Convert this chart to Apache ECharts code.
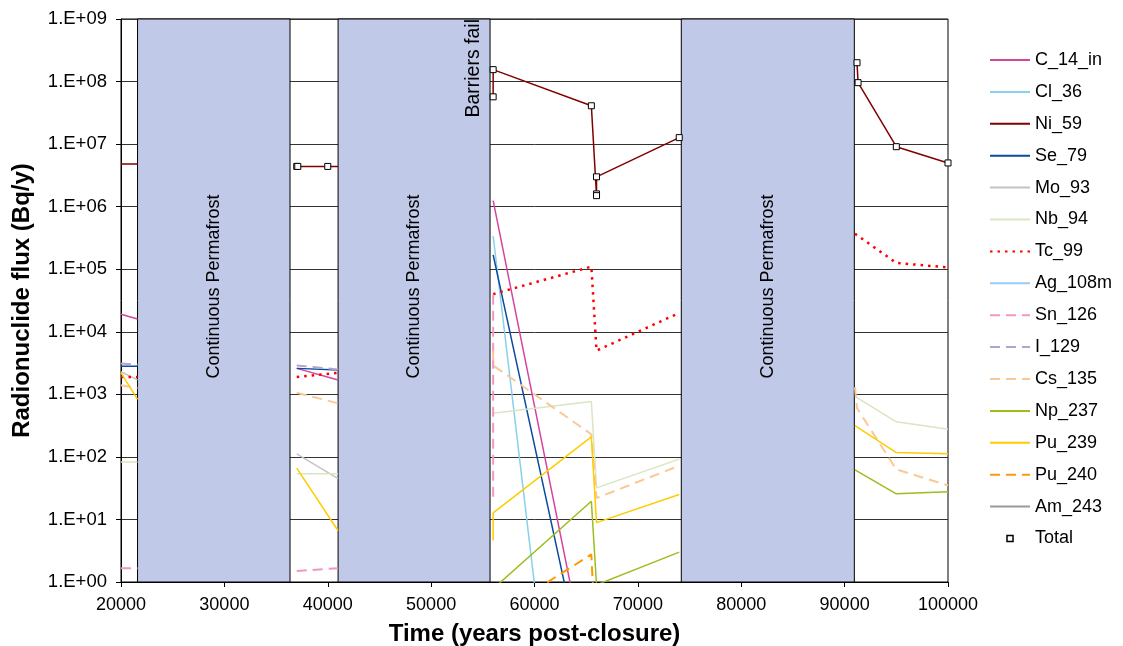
<!DOCTYPE html>
<html>
<head>
<meta charset="utf-8">
<script src="https://cdn.jsdelivr.net/npm/echarts@6/dist/echarts.min.js"></script>
<style>
html,body{margin:0;padding:0;background:#fff;}
#chart{width:1123px;height:646px;}
</style>
</head>
<body>
<div id="chart"></div>
<script>
// ---- data ----
const G = null; // gap between visible windows
const C_14_in = [[20000,1.9e4],[21600,1.6e4],G,[37000,2.6e3],[41000,1.7e3],G,[56000,1.25e6],[65500,0.02]];
const Cl_36   = [[56000,3.4e5],[65500,2e-8]];
const Ni_59   = [[20000,4.8e6],[21600,4.8e6],G,[37000,4.4e6],[40000,4.4e6],[41000,4.4e6],G,[56000,5.7e7],[56000,1.55e8],[65500,4.1e7],[66000,1.5e6],[66000,3.0e6],[74000,1.27e7],G,[91200,2.0e8],[91300,9.6e7],[95000,9.1e6],[100000,5.0e6]];
const Se_79   = [[20000,2.8e3],[21600,2.8e3],G,[37000,2.6e3],[41000,2.45e3],G,[56000,1.7e5],[65500,0.01]];
const Mo_93   = [[20000,2.3e3],[21600,1.7e3],G,[37000,112],[41000,45]];
const Nb_94   = [[20000,83],[21600,83],G,[37000,54],[41000,54],G,[56000,500],[65500,770],[66000,32],[74000,92],G,[91000,930],[95000,363],[100000,277]];
const Tc_99   = [[20000,1.9e3],[21600,1.9e3],G,[37000,1.9e3],[41000,2.2e3],G,[56000,4.0e4],[65500,1.1e5],[66000,5.0e3],[74000,2.0e4],G,[91000,3.7e5],[95000,1.26e5],[100000,1.07e5]];
const Ag_108m = [];
const Sn_126  = [[20000,1.66],[21600,1.66],G,[37000,1.5],[41000,1.66],G,[56000,23],[56000,4.0e4]];
const I_129   = [[20000,3.1e3],[21600,3.0e3],G,[37000,2.9e3],[41000,2.5e3]];
const Cs_135  = [[20000,1.4e3],[21600,1.25e3],G,[37000,1.06e3],[41000,720],G,[56000,5.0e3],[56000,2.9e3],[65500,230],[66000,22],[74000,72],G,[91000,1.3e3],[91200,600],[95000,63],[100000,35]];
const Np_237  = [[56000,0.78],[65500,19.5],[66000,0.9],[74000,3.0],G,[91000,62],[95000,25.7],[100000,27.6]];
const Pu_239  = [[20000,2.2e3],[21600,830],G,[37000,66],[41000,6.6],G,[56000,4.6],[56000,12.7],[65500,209],[66000,8.9],[74000,25],G,[91000,316],[95000,117],[100000,112]];
const Pu_240  = [[56000,0.28],[65500,2.76],[66000,0.05]];
const Am_243  = [];
const Total   = [[37000,4.4e6],[37100,4.4e6],[40000,4.4e6],[56000,5.7e7],[56000,1.55e8],[65500,4.1e7],[66000,3.0e6],[66000,1.6e6],[66000,1.5e6],[74000,1.27e7],[91200,2.0e8],[91300,9.6e7],[95000,9.1e6],[100000,5.0e6]];

const permafrostBands = [[21600,36350],[41000,55700],[74200,90940]];
const bandLabel = 'Continuous Permafrost';
const barriersFailTime = 55700;
const barriersLabel = 'Barriers fail';

// ---- build ----
const FONT = "'Liberation Sans', Arial, sans-serif";
function pts(a){ return a.map(p => p === null ? ['-','-'] : p); }

const lineDefs = [
  ['C_14_in', C_14_in, '#D6459B', 'solid', 1.5],
  ['Cl_36', Cl_36, '#8AD0EC', 'solid', 1.5],
  ['Ni_59', Ni_59, '#800000', 'solid', 1.5],
  ['Se_79', Se_79, '#0B4A9E', 'solid', 1.5],
  ['Mo_93', Mo_93, '#C4C4C4', 'solid', 1.5],
  ['Nb_94', Nb_94, '#D8E6C2', 'solid', 1.5],
  ['Tc_99', Tc_99, '#FF0000', [2.5,5], 2.5],
  ['Ag_108m', Ag_108m, '#9ACCF4', 'solid', 1.5],
  ['Sn_126', Sn_126, '#F296C4', [10,6], 2],
  ['I_129', I_129, '#B3A2D2', [10,6], 2],
  ['Cs_135', Cs_135, '#FAC896', [10,6], 2],
  ['Np_237', Np_237, '#9BBE1E', 'solid', 1.5],
  ['Pu_239', Pu_239, '#FFCC00', 'solid', 1.5],
  ['Pu_240', Pu_240, '#FF9900', [10,6], 2],
  ['Am_243', Am_243, '#9A9A9A', 'solid', 1.5]
];

const series = lineDefs.map(([name, data, color, type, width]) => ({
  name, type: 'line', data: pts(data), symbol: 'none', z: 2,
  connectNulls: false, clip: true,
  color,
  lineStyle: { color, type, width },
  emphasis: { disabled: true }
}));

series.push({
  name: 'Total', type: 'line', data: Total, z: 3,
  symbol: 'rect', symbolSize: 6, showSymbol: true,
  lineStyle: { opacity: 0, width: 0 },
  itemStyle: { color: '#fff', borderColor: '#000', borderWidth: 1 },
  emphasis: { disabled: true }
});

series.push({
  name: '__bands', type: 'line', data: [], z: 5, silent: true,
  markArea: {
    silent: true,
    itemStyle: { color: '#C0C9E7', borderColor: '#000', borderWidth: 1 },
    label: { show: true, position: 'inside', rotate: 90, offset: [14, 0], fontSize: 18, color: '#000', fontFamily: FONT },
    data: permafrostBands.map(b => [{ xAxis: b[0], name: bandLabel }, { xAxis: b[1] }])
  }
});

series.push({
  name: '__fail', type: 'line', data: [], z: 6, silent: true,
  markLine: {
    silent: true, symbol: ['none','none'],
    lineStyle: { color: 'rgba(0,0,0,0)', width: 1, type: 'solid' },
    label: { show: true, formatter: barriersLabel, position: 'insideEndTop', fontSize: 19.5, color: '#000', fontFamily: FONT, distance: [0, 6] },
    data: [{ xAxis: barriersFailTime }]
  }
});

const legendNames = lineDefs.map(d => d[0]);
const legendData = legendNames.map(n => ({ name: n }));
legendData.push({ name: 'Total', icon: 'path://M0,0M40,14M17,4L23,4L23,10L17,10Z',
  itemStyle: { opacity: 1, color: '#fff', borderColor: '#000', borderWidth: 1.5 } });

const chart = echarts.init(document.getElementById('chart'), null, { renderer: 'canvas' });
chart.setOption({
  animation: false,
  backgroundColor: '#fff',
  textStyle: { fontFamily: FONT },
  grid: { left: 121, right: 175, top: 19, bottom: 64, show: true, borderColor: '#000', borderWidth: 1, backgroundColor: 'transparent',
          containLabel: false, outerBoundsMode: 'none' },
  legend: {
    orient: 'vertical', left: 989, top: 51, padding: 0,
    itemWidth: 40, itemHeight: 14, itemGap: 13.9,
    selectedMode: false,
    itemStyle: { opacity: 0 },
    textStyle: { fontSize: 18, color: '#000', fontFamily: FONT },
    data: legendData
  },
  xAxis: {
    type: 'value', min: 20000, max: 100000, interval: 10000,
    name: 'Time (years post-closure)', nameLocation: 'middle', nameGap: 40,
    nameTextStyle: { fontSize: 24, fontWeight: 'bold', color: '#000', fontFamily: FONT },
    axisLine: { show: true, lineStyle: { color: '#000', width: 1 } },
    axisTick: { show: true, length: 5, lineStyle: { color: '#000' } },
    axisLabel: { fontSize: 18, color: '#000', margin: 14, fontFamily: FONT, formatter: v => String(v) },
    splitLine: { show: false }
  },
  yAxis: {
    type: 'log', logBase: 10, min: 1, max: 1e9,
    name: 'Radionuclide flux (Bq/y)', nameLocation: 'middle', nameGap: 87,
    nameTextStyle: { fontSize: 24, fontWeight: 'bold', color: '#000', fontFamily: FONT },
    axisLine: { show: true, lineStyle: { color: '#000', width: 1 } },
    axisTick: { show: true, length: 5, lineStyle: { color: '#000' } },
    axisLabel: { fontSize: 18.5, color: '#000', margin: 14, fontFamily: FONT,
      formatter: v => '1.E+' + String(Math.round(Math.log10(v))).padStart(2, '0') },
    splitLine: { show: true, lineStyle: { color: '#333', width: 1 } }
  },
  series
});
</script>
</body>
</html>
